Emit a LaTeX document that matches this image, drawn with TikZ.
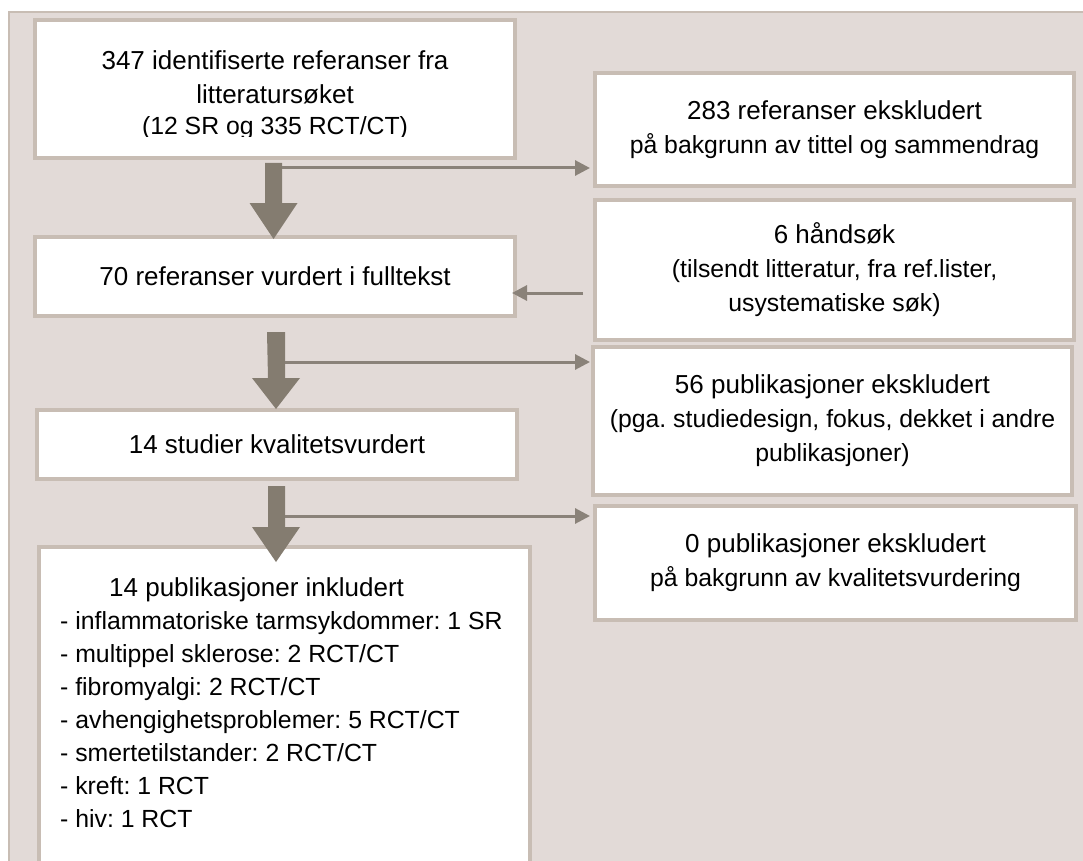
\documentclass[tikz,border=0pt]{standalone}
\usepackage{fontspec}
\setmainfont{Liberation Sans}
\usetikzlibrary{calc,arrows.meta}
\definecolor{panelfill}{HTML}{E2DAD7}
\definecolor{boxline}{HTML}{C8BDB4}
\definecolor{bigarr}{HTML}{847C70}
\definecolor{thinarr}{HTML}{8A8279}
\newcommand{\ttlfont}{\fontsize{26}{34}\selectfont\frenchspacing}
\newcommand{\sbtfont}{\fontsize{24.8}{33}\selectfont\frenchspacing}
\begin{document}
\begin{tikzpicture}[x=1pt,y=-1pt,
  box/.style={draw=boxline, line width=4pt, fill=white, inner sep=0pt, align=center, font=\ttlfont},
  boxtext/.style={inner sep=0pt, align=center, font=\ttlfont},
  bigarrow/.style={fill=bigarr},
  thinarrow/.style={draw=thinarr, line width=3pt, -{Triangle[length=15pt,width=15pt]}}]
\useasboundingbox (0,0) rectangle (1083,861);
\clip (0,0) rectangle (1083,861);
% panel
\draw[draw=boxline, line width=1.5pt, fill=panelfill] (9,12) rectangle (1110,890);

% left column
\node[box, minimum width=480pt, minimum height=138pt] (b1) at (275,89) {};
\begin{scope}
  \clip (35,20) rectangle (515,136.5);
  \node[boxtext] (b1t) at ($(b1.center)+(0,6)$)
    {347 identifiserte referanser fra\\ litteratursøket\\[-3pt] {\sbtfont (12 SR og 335 RCT/CT)}};
\end{scope}
\node[box, minimum width=480pt, minimum height=79pt] (b70) at (275,276.5)
  {70 referanser vurdert i fulltekst};
\node[box, minimum width=480pt, minimum height=69pt] (b14s) at (277,444.5)
  {14 studier kvalitetsvurdert};
\node[box, minimum width=491pt, minimum height=326pt] (b14p) at (284.5,710) {};
\node[anchor=north west, align=left, inner sep=0pt, font=\sbtfont] (lst) at (60,577)
  {\hspace*{49pt}{\ttlfont 14 publikasjoner inkludert}\\
   - inflammatoriske tarmsykdommer: 1 SR\\
   - multippel sklerose: 2 RCT/CT\\
   - fibromyalgi: 2 RCT/CT\\
   - avhengighetsproblemer: 5 RCT/CT\\
   - smertetilstander: 2 RCT/CT\\
   - kreft: 1 RCT\\
   - hiv: 1 RCT};

% right column
\node[box, minimum width=479pt, minimum height=113pt] (r283) at (834.5,129.5)
  {283 referanser ekskludert\\ {\sbtfont på bakgrunn av tittel og sammendrag}};
\node[box, minimum width=479pt, minimum height=140pt] (r6) at (834.5,270)
  {6 håndsøk\\ {\sbtfont (tilsendt litteratur, fra ref.lister,}\\ {\sbtfont usystematiske søk)}};
\node[box, minimum width=479pt, minimum height=148pt] (r56) at (832.5,421)
  {56 publikasjoner ekskludert\\ {\sbtfont (pga. studiedesign, fokus, dekket i andre}\\ {\sbtfont publikasjoner)}};
\node[box, minimum width=481pt, minimum height=114pt] (r0) at (835.5,563)
  {0 publikasjoner ekskludert\\ {\sbtfont på bakgrunn av kvalitetsvurdering}};

% big arrows
\fill[bigarrow] ($(b1.south)+(-10,3)$) -- ($(b1.south)+(7,3)$) -- ($(b70.north)+(7,-32)$)
  -- ($(b70.north)+(22.5,-32)$) -- ($(b70.north)+(-1.5,4)$) -- ($(b70.north)+(-25.5,-32)$)
  -- ($(b70.north)+(-10,-32)$) -- cycle;
\fill[bigarrow] ($(b70.south)+(-8,14)$) -- ($(b70.south)+(10,14)$) -- ($(b14s.north)+(8,-30)$)
  -- ($(b14s.north)+(23,-30)$) -- ($(b14s.north)+(-1,1)$) -- ($(b14s.north)+(-25,-30)$)
  -- ($(b14s.north)+(-9,-30)$) -- cycle;
\fill[bigarrow] ($(b14s.south)+(-9,5)$) -- ($(b14s.south)+(8,5)$) -- ($(b14p.north)+(0.5,-18)$)
  -- ($(b14p.north)+(15.5,-18)$) -- ($(b14p.north)+(-8.5,17)$) -- ($(b14p.north)+(-32.5,-18)$)
  -- ($(b14p.north)+(-16.5,-18)$) -- cycle;

% thin arrows
\coordinate (t1) at ($(b1.south)+(7,8)$);
\draw[thinarrow, shorten >=3pt] (t1) -- (t1 -| r283.west);
\coordinate (t2) at ($(r6.west)+(-10,23)$);
\draw[thinarrow, shorten >=-5pt] (t2) -- (t2 -| b70.east);
\coordinate (t3) at ($(b70.south)+(10,44)$);
\draw[thinarrow, shorten >=1pt] (t3) -- (t3 -| r56.west);
\coordinate (t4) at ($(b14s.south)+(8,35)$);
\draw[thinarrow, shorten >=3pt] (t4) -- (t4 -| r0.west);
\end{tikzpicture}
\end{document}
